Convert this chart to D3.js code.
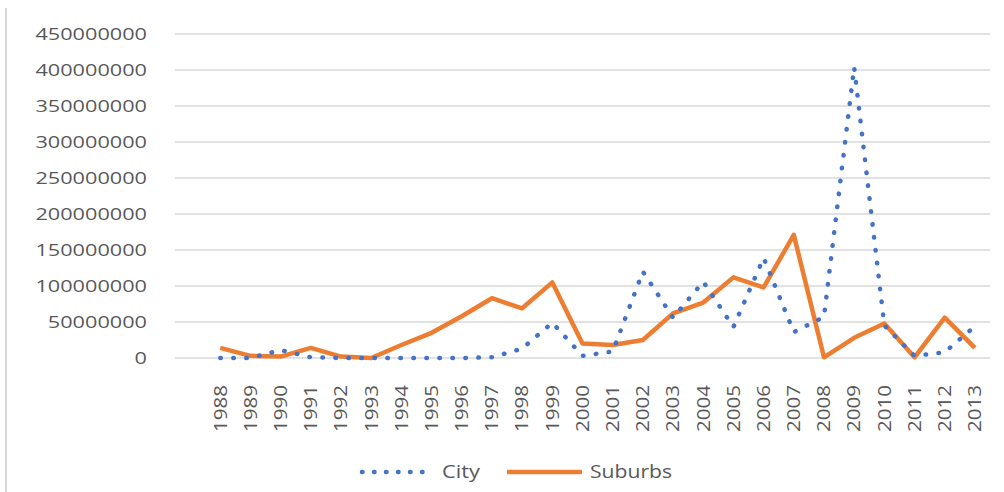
<!DOCTYPE html>
<html>
<head>
<meta charset="utf-8">
<script src="https://cdn.jsdelivr.net/npm/d3@7/dist/d3.min.js"></script>
<style>
html,body{margin:0;padding:0;background:#fff;}
svg{display:block;}
text{font-family:"Open Sans","Liberation Sans",sans-serif;fill:#595959;}
</style>
</head>
<body>
<svg id="chart" width="1004" height="492"></svg>
<script>
const years = ["", "1988","1989","1990","1991","1992","1993","1994","1995","1996","1997","1998","1999","2000","2001","2002","2003","2004","2005","2006","2007","2008","2009","2010","2011","2012","2013"];
const cityValues = [null, 0, 0, 11000000, 1000000, 0, 0, 0, 0, 0, 1000000, 13000000, 49000000, 3000000, 9000000, 120000000, 56000000, 106000000, 43000000, 139000000, 36000000, 57000000, 404000000, 45000000, 3000000, 8000000, 44000000];
const suburbsValues = [null, 14000000, 3000000, 2000000, 14000000, 2000000, 0, 18000000, 35000000, 58000000, 83000000, 69000000, 105000000, 20000000, 18000000, 25000000, 62000000, 77000000, 112000000, 98000000, 171000000, 1000000, 28000000, 48000000, 1000000, 56000000, 14000000];
const yTicks = [0, 50000000, 100000000, 150000000, 200000000, 250000000, 300000000, 350000000, 400000000, 450000000];
const seriesNames = ["City", "Suburbs"];

(function(){
const svg = d3.select("#chart");
const pL = 175, pR = 990, pT = 34, pB = 358;

// chart border (left edge)
svg.append("line").attr("x1",6).attr("x2",6).attr("y1",8).attr("y2",492)
  .attr("stroke","#d9d9d9").attr("stroke-width",2);

const x = d3.scaleBand().domain(years.map((d,i)=>i)).range([pL,pR]);
const y = d3.scaleLinear().domain([0,450000000]).range([pB,pT]);

// gridlines
svg.append("g").selectAll("line").data(yTicks).join("line")
  .attr("x1",pL).attr("x2",pR)
  .attr("y1",d=>y(d)).attr("y2",d=>y(d))
  .attr("stroke","#d9d9d9").attr("stroke-width",1.5);

// y labels
const yAxis = d3.axisLeft(y).tickValues(yTicks).tickFormat(d=>String(d)).tickSize(0).tickPadding(0);
const gy = svg.append("g").attr("transform",`translate(147,0)`).call(yAxis);
gy.select(".domain").remove();
gy.selectAll("text").attr("font-size",17).attr("fill","#5f5f5f")
  .attr("font-family","'Open Sans','Liberation Sans',sans-serif")
  .attr("textLength",d=>String(d).length*12.4).attr("lengthAdjust","spacingAndGlyphs");

// x labels
const xAxis = d3.axisBottom(x).tickFormat(i=>years[i]).tickSize(0).tickPadding(0);
const gx = svg.append("g").attr("transform",`translate(0,${pB})`).call(xAxis);
gx.select(".domain").remove();
gx.selectAll(".tick text")
  .attr("font-size",18).attr("fill","#5f5f5f")
  .attr("font-family","'Open Sans','Liberation Sans',sans-serif")
  .attr("transform","rotate(-90)")
  .attr("text-anchor","end")
  .attr("x",-27).attr("y",0).attr("dy","0.35em")
  .attr("textLength",d=>years[d].length ? 47 : null).attr("lengthAdjust","spacingAndGlyphs");

const cx = i => x(i) + x.bandwidth()/2;
const line = d3.line().defined(d=>d.v!==null).x(d=>cx(d.i)).y(d=>y(d.v));

svg.append("path")
  .datum(suburbsValues.map((v,i)=>({i,v})))
  .attr("d",line).attr("fill","none")
  .attr("stroke","#ED7D31").attr("stroke-width",4.5).attr("stroke-linejoin","round");

svg.append("path")
  .datum(cityValues.map((v,i)=>({i,v})))
  .attr("d",line).attr("fill","none")
  .attr("stroke","#4472C4").attr("stroke-width",4.5).attr("stroke-linecap","round")
  .attr("stroke-dasharray","0.5 12.5");

// legend
const lg = svg.append("g");
lg.append("line").attr("x1",362).attr("x2",433).attr("y1",472).attr("y2",472)
  .attr("stroke","#4472C4").attr("stroke-width",4.5).attr("stroke-linecap","round")
  .attr("stroke-dasharray","0.5 11.5");
lg.append("text").attr("x",442).attr("y",472).attr("dy","0.35em")
  .attr("font-size",18).attr("textLength",38).attr("lengthAdjust","spacingAndGlyphs").text(seriesNames[0]);
lg.append("line").attr("x1",507).attr("x2",582).attr("y1",472).attr("y2",472)
  .attr("stroke","#ED7D31").attr("stroke-width",4.5);
lg.append("text").attr("x",590).attr("y",472).attr("dy","0.35em")
  .attr("font-size",18).attr("textLength",82).attr("lengthAdjust","spacingAndGlyphs").text(seriesNames[1]);
})();
</script>
</body>
</html>
